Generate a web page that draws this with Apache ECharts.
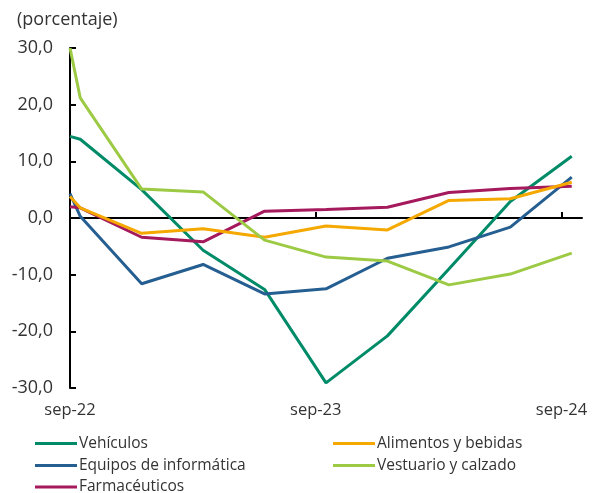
<!DOCTYPE html>
<html>
<head>
<meta charset="utf-8">
<script src="https://cdn.jsdelivr.net/npm/echarts@6/dist/echarts.min.js"></script>
<style>
html,body{margin:0;padding:0;background:#fff;}
#chart{width:609px;height:493px;}
</style>
</head>
<body>
<div id="chart"></div>
<script>
// months since sep-22 for each observation
const monthsSinceSep22 = [0, 0.5, 3.5, 6.5, 9.5, 12.5, 15.5, 18.5, 21.5, 24.5];
const tickMonths = [0, 12, 24];
const tickLabels = ['sep-22', 'sep-23', 'sep-24'];

const seriesNames = ['Vehículos', 'Equipos de informática', 'Farmacéuticos', 'Alimentos y bebidas', 'Vestuario y calzado'];
const vehiculos    = [14.4, 13.9, 5.0, -5.7, -12.6, -29.1, -20.8, -9.0, 2.9, 10.9];
const equipos      = [4.3, 0.3, -11.6, -8.2, -13.4, -12.5, -7.1, -5.1, -1.6, 7.2];
const farmaceut    = [2.0, 1.8, -3.4, -4.2, 1.2, 1.5, 1.9, 4.5, 5.2, 5.6];
const alimentos    = [3.8, 1.8, -2.7, -1.9, -3.4, -1.4, -2.1, 3.1, 3.4, 6.3];
const vestuario    = [30.0, 21.2, 5.1, 4.6, -3.9, -6.9, -7.6, -11.8, -9.9, -6.2];

const colors = {
  'Vehículos': '#008B68',
  'Equipos de informática': '#255E91',
  'Farmacéuticos': '#A5195D',
  'Alimentos y bebidas': '#F5A800',
  'Vestuario y calzado': '#9DCA45'
};
const values = {
  'Vehículos': vehiculos,
  'Equipos de informática': equipos,
  'Farmacéuticos': farmaceut,
  'Alimentos y bebidas': alimentos,
  'Vestuario y calzado': vestuario
};

const FONT = '"Open Sans", "Noto Sans", sans-serif';
const TEXT = '#333';
const chart = echarts.init(document.getElementById('chart'), null, {renderer: 'canvas'});

const series = seriesNames.map(n => ({
  name: n,
  type: 'line',
  xAxisIndex: 0,
  yAxisIndex: 0,
  showSymbol: false,
  symbol: 'none',
  lineStyle: {width: 3, color: colors[n]},
  itemStyle: {color: colors[n]},
  z: 3,
  data: monthsSinceSep22.map((m, i) => [m, values[n][i]])
}));

// legend placement: [name, left, top]
const legendPlacement = [
  ['Vehículos', 35, 435.5],
  ['Alimentos y bebidas', 333, 435.5],
  ['Equipos de informática', 35, 457.5],
  ['Vestuario y calzado', 333, 457.5],
  ['Farmacéuticos', 35, 479]
];
const legends = legendPlacement.map(([n, l, t]) => ({
  left: l, top: t,
  orient: 'horizontal',
  itemWidth: 42,
  itemHeight: 14,
  icon: 'path://M0,0 L42,0 L42,3 L0,3 Z',
  textStyle: {fontFamily: FONT, fontSize: 15.5, color: TEXT, padding: [0,0,0,-3]},
  padding: 0,
  data: [n]
}));

chart.setOption({
  backgroundColor: '#fff',
  animation: false,
  title: {
    text: '(porcentaje)',
    left: 12, top: 6,
    textStyle: {fontFamily: FONT, fontSize: 18, fontWeight: 'normal', color: TEXT}
  },
  grid: {left: 70, right: 27, top: 48, bottom: 105, containLabel: false},
  legend: legends,
  xAxis: [
    {
      type: 'value', min: 0, max: 25, interval: 12,
      position: 'bottom',
      axisLine: {show: false, onZero: false},
      axisTick: {show: false},
      splitLine: {show: false},
      axisLabel: {
        customValues: tickMonths,
        margin: 14,
        fontFamily: FONT, fontSize: 16.5, color: TEXT,
        formatter: v => { const i = tickMonths.indexOf(v); return i >= 0 ? tickLabels[i] : ''; }
      }
    },
    {
      type: 'value', min: 0, max: 25, interval: 12,
      position: 'bottom',
      axisLine: {show: true, onZero: true, lineStyle: {color: '#000', width: 2}},
      axisTick: {show: true, inside: true, length: 6, customValues: tickMonths, lineStyle: {color: '#000', width: 2}},
      axisLabel: {show: false},
      splitLine: {show: false}
    }
  ],
  yAxis: {
    type: 'value', min: -30, max: 30, interval: 10,
    axisLine: {show: true, onZero: false, lineStyle: {color: '#000', width: 2}},
    axisTick: {show: true, inside: true, length: 6, lineStyle: {color: '#000', width: 2}},
    splitLine: {show: false},
    axisLabel: {
      margin: 17,
      fontFamily: FONT, fontSize: 18, color: TEXT,
      formatter: v => v.toFixed(1).replace('.', ',')
    }
  },
  series: series
});
</script>
</body>
</html>
